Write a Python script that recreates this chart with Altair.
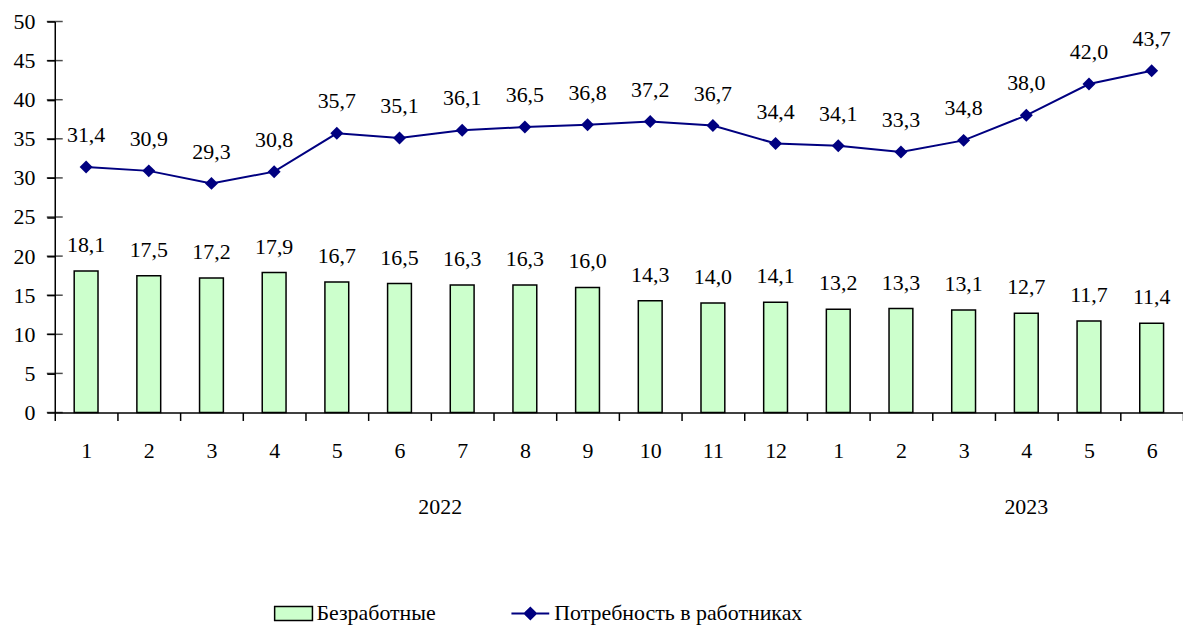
import json
import altair as alt
import pandas as pd

# ---- data ----
months = [1, 2, 3, 4, 5, 6, 7, 8, 9, 10, 11, 12, 1, 2, 3, 4, 5, 6]
unemployed = [18.1, 17.5, 17.2, 17.9, 16.7, 16.5, 16.3, 16.3, 16.0, 14.3, 14.0, 14.1,
              13.2, 13.3, 13.1, 12.7, 11.7, 11.4]
demand = [31.4, 30.9, 29.3, 30.8, 35.7, 35.1, 36.1, 36.5, 36.8, 37.2, 36.7, 34.4,
          34.1, 33.3, 34.8, 38.0, 42.0, 43.7]
years = ["2022", "2023"]
year_anchor = [6, 15]          # month slot under which each year label sits
y_ticks = [0, 5, 10, 15, 20, 25, 30, 35, 40, 45, 50]
series_bar = "Безработные"
series_line = "Потребность в работниках"

df = pd.DataFrame({
    "idx": list(range(len(months))),
    "month": months,
    "bez": unemployed,
    "potr": demand,
    "s1": series_bar,
    "s2": series_line,
})
ydf = pd.DataFrame({"idx": year_anchor, "year": years})
tdf = pd.DataFrame({"v": y_ticks})

FONT = "Liberation Serif"
NAVY = "#000080"
GREEN = "#ccffcc"
W, H = 1134, 393
FS = 22

label_expr = json.dumps([str(m) for m in months]) + "[datum.value]"

x_axis = alt.Axis(title=None, labelExpr=label_expr, labelAngle=0, tickBand="extent",
                  tickSize=8, labelPadding=37, labelBaseline="alphabetic",
                  domain=True, ticks=True,
                  labelFont=FONT, labelFontSize=FS, labelColor="black")
x_scale = alt.Scale(paddingInner=0, paddingOuter=0)
y_axis = alt.Axis(title=None, values=y_ticks, tickSize=8, labelPadding=12, grid=False,
                  labelBaseline="alphabetic", labelOffset=7,
                  labelFont=FONT, labelFontSize=FS, labelColor="black")
y_scale = alt.Scale(domain=[0, 50], nice=False, zero=True)

X = alt.X("idx:O", scale=x_scale, axis=x_axis)

base = alt.Chart(df).transform_calculate(
    lab1="replace(format(datum.bez, '.1f'), '.', ',')",
    lab2="replace(format(datum.potr, '.1f'), '.', ',')",
)

bars = base.mark_bar(width=alt.RelativeBandSize(0.38), stroke="black", strokeWidth=1.5).encode(
    x=X,
    y=alt.Y("bez:Q", scale=y_scale, axis=y_axis),
    fill=alt.Fill("s1:N", scale=alt.Scale(domain=[series_bar], range=[GREEN]),
                  legend=alt.Legend(title=None, orient="none", legendX=220, legendY=575,
                                    symbolType="M-1,-0.37H1V0.37H-1Z", symbolSize=1444,
                                    symbolStrokeColor="black", symbolStrokeWidth=1.5,
                                    labelOffset=3, padding=0, labelFont=FONT,
                                    labelFontSize=FS, labelColor="black", labelLimit=600)),
)

bar_labels = base.mark_text(dy=-19, fontSize=FS, font=FONT, baseline="alphabetic", color="black").encode(
    x=X,
    y=alt.Y("bez:Q", scale=y_scale, axis=y_axis),
    text="lab1:N",
)

line = base.mark_line(strokeWidth=2, point=alt.OverlayMarkDef(shape="diamond", size=170, filled=True,
                                                            fill=NAVY, strokeWidth=0)).encode(
    x=X,
    y=alt.Y("potr:Q", scale=y_scale, axis=y_axis),
    stroke=alt.Stroke("s2:N", scale=alt.Scale(domain=[series_line], range=[NAVY]),
                      legend=alt.Legend(title=None, orient="none", legendX=458, legendY=575,
                                        symbolType="M-1,0H1M-0.3,0L0,-0.3L0.3,0L0,0.3Z",
                                        symbolSize=1444, symbolStrokeWidth=2,
                                        symbolFillColor=NAVY, labelOffset=4, padding=0,
                                        labelFont=FONT, labelFontSize=FS,
                                        labelColor="black", labelLimit=600)),
)

line_labels = base.mark_text(dy=-25, fontSize=FS, font=FONT, baseline="alphabetic", color="black").encode(
    x=X,
    y=alt.Y("potr:Q", scale=y_scale, axis=y_axis),
    text="lab2:N",
)

inner_ticks = alt.Chart(tdf).mark_tick(size=16, thickness=1.5, color="black").encode(
    y=alt.Y("v:Q", scale=y_scale, axis=y_axis),
    x=alt.value(0),
)

year1 = alt.Chart(ydf).transform_filter(alt.datum.year == years[0]).mark_text(
    fontSize=FS, font=FONT, baseline="alphabetic", dy=7, color="black").encode(
    x=alt.X("idx:O", scale=x_scale, axis=x_axis, bandPosition=0.15),
    y=alt.value(H + 95),
    text="year:N",
)
year2 = alt.Chart(ydf).transform_filter(alt.datum.year == years[1]).mark_text(
    fontSize=FS, font=FONT, baseline="alphabetic", dy=7, color="black").encode(
    x=alt.X("idx:O", scale=x_scale, axis=x_axis, bandPosition=0.5),
    y=alt.value(H + 95),
    text="year:N",
)

chart = alt.layer(bars, bar_labels, line, line_labels, inner_ticks, year1, year2).properties(
    width=W, height=H,
    autosize=alt.AutoSizeParams(type="none"),
    padding={"left": 47, "top": 12, "right": 0, "bottom": 212},
).configure_axis(
    domainColor="black", tickColor="black", domainWidth=1.5, tickWidth=1.5,
).configure_view(stroke=None)

chart.save("out.html", embed_options={"renderer": "svg", "actions": False})
